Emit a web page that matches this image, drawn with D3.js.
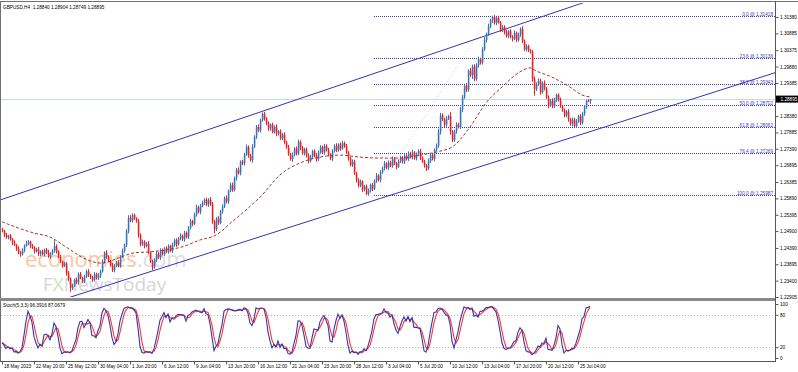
<!DOCTYPE html>
<html>
<head>
<meta charset="utf-8">
<script src="https://cdn.jsdelivr.net/npm/d3@7/dist/d3.min.js"></script>
<style>
  body { margin: 0; background: #fff; }
  svg { display: block; }
  text { font-family: "Liberation Sans", Arial, sans-serif; }
</style>
</head>
<body>
<div id="chart"></div>
<script>
// GBPUSD H4 closes, in pips above 1.0000 (2490 = 1.2490); open = previous close
var closes = [
  2490,2478,2470,2476,2465,2455,2448,2436,2425,2420,2432,2446,2452,2458,2445,2440,2428,2435,2420,2428,
  2420,2434,2425,2412,2422,2430,2445,2428,2412,2398,2385,2392,2362,2345,2318,2325,2342,2335,2360,2348,
  2338,2352,2368,2358,2350,2342,2360,2348,2355,2368,2398,2425,2412,2400,2388,2372,2385,2395,2385,2412,
  2430,2448,2490,2530,2522,2538,2528,2520,2478,2450,2458,2445,2452,2425,2398,2380,2402,2422,2410,2432,
  2420,2438,2428,2445,2430,2448,2462,2450,2468,2475,2465,2485,2472,2500,2520,2512,2540,2562,2548,2566,
  2575,2585,2570,2585,2572,2520,2495,2528,2515,2550,2565,2590,2580,2612,2630,2615,2650,2675,2665,2700,
  2695,2722,2745,2718,2705,2745,2775,2805,2795,2825,2845,2830,2815,2800,2812,2790,2805,2785,2792,2770,
  2782,2760,2745,2722,2708,2720,2740,2725,2760,2742,2725,2738,2718,2702,2715,2732,2718,2708,2728,2745,
  2728,2748,2735,2722,2710,2732,2748,2735,2752,2740,2756,2748,2728,2710,2690,2700,2665,2645,2628,2640,
  2615,2625,2603,2612,2630,2618,2642,2658,2645,2668,2680,2695,2682,2698,2688,2708,2695,2685,2702,2712,
  2700,2718,2708,2725,2715,2728,2710,2722,2732,2712,2700,2688,2680,2702,2720,2708,2735,2748,2790,2840,
  2828,2812,2830,2838,2790,2765,2792,2812,2805,2858,2895,2930,2918,2975,2962,2988,2950,2992,3010,3000,
  3040,3068,3085,3110,3128,3138,3120,3135,3122,3098,3108,3092,3080,3095,3078,3072,3090,3068,3085,3102,
  3065,3040,3050,3036,3032,2950,2920,2935,2945,2910,2938,2922,2895,2870,2885,2868,2888,2902,2888,2868,
  2855,2840,2852,2828,2815,2828,2808,2822,2838,2818,2845,2865,2885,2884,2889.5
];
var firstOpen = 2495;
// wick above the body top / below the body bottom, in pips
var wickUp = [
  5,4,6,3,5,4,7,3,8,5,6,4,9,5,3,6,4,5,7,4,
  6,3,5,8,4,6,17,5,4,6,3,5,4,7,5,6,4,8,5,6,
  4,6,5,7,3,5,6,4,8,5,6,4,7,5,3,6,5,4,6,5,
  7,4,6,8,9,6,5,4,7,5,6,4,5,8,4,6,5,7,4,6,
  5,4,6,5,3,7,5,6,4,8,5,6,4,5,7,4,6,8,5,6,
  7,4,6,5,8,6,4,5,7,4,6,5,8,4,6,7,5,6,8,4,
  6,5,7,4,6,8,5,6,8,5,4,6,5,7,4,6,5,8,4,6,
  5,7,4,6,5,8,4,6,7,5,6,4,5,7,6,4,5,8,6,5,
  4,6,5,7,4,6,5,8,4,6,7,5,6,4,5,7,6,4,5,6,
  4,5,6,7,4,6,5,8,4,6,5,7,4,6,5,8,6,4,5,6,
  5,7,4,6,5,8,4,6,5,7,4,6,5,8,4,6,5,7,10,8,
  6,5,8,4,12,6,5,7,6,8,7,6,8,5,9,6,7,6,8,5,
  7,9,6,8,5,4,6,5,7,4,6,5,8,4,6,5,7,4,6,5,
  8,5,6,4,5,6,8,5,7,6,5,8,4,6,5,7,6,4,5,6,
  4,6,5,7,4,6,5,7,4,6,5,6,3,4,1
];
var wickDn = [
  4,6,3,5,4,7,3,6,5,8,4,6,3,5,7,4,6,3,5,6,
  4,7,5,3,6,4,5,6,4,5,6,4,7,5,12,6,4,5,7,4,
  6,5,4,7,5,6,4,5,6,7,4,5,6,4,5,6,7,4,5,6,
  4,5,6,7,5,6,4,5,8,6,5,7,4,6,5,8,4,6,5,7,
  4,6,5,7,4,6,5,8,4,6,5,7,4,6,5,7,4,6,5,7,
  4,6,5,7,6,8,12,5,6,4,7,5,6,8,4,6,5,7,4,6,
  5,7,4,6,5,8,4,6,5,7,4,6,5,7,6,4,5,8,6,4,
  5,7,6,4,5,8,4,6,5,7,4,6,5,7,4,6,5,8,6,4,
  5,7,4,6,5,8,4,6,5,7,4,6,5,7,4,6,5,8,6,5,
  7,5,4,6,5,7,4,6,5,7,4,6,5,7,4,6,5,8,4,6,
  5,7,4,6,5,8,4,6,5,7,4,6,8,5,6,4,7,5,6,8,
  5,7,6,4,8,6,5,7,4,6,8,5,7,6,5,12,6,5,7,6,
  6,5,7,4,6,8,5,7,4,6,5,7,4,6,5,8,4,6,5,7,
  6,5,7,4,5,8,20,6,5,7,4,6,5,8,4,6,5,7,6,5,
  4,6,5,7,6,8,5,6,4,7,5,6,5,4,9
];

// moving average (bar index, pips)
var maBars   = [0,16,24,32,40,46,50,58,66,74,82,90,99,107,115,122,130,139,149,159,169,179,189,199,209,219,225,234,242,250,259,264,267,275,284,290,294];
var maValues = [2518,2484,2472,2442,2411,2396,2393,2408,2424,2427,2433,2442,2463,2478,2518,2554,2599,2660,2696,2714,2720,2714,2711,2711,2720,2732,2744,2805,2878,2926,2972,2984,2975,2956,2926,2902,2896];

var timeLabels = ["18 May 2023","22 May 20:00","25 May 12:00","30 May 04:00","1 Jun 20:00","6 Jun 12:00",
  "9 Jun 04:00","13 Jun 20:00","16 Jun 12:00","21 Jun 04:00","23 Jun 20:00","28 Jun 12:00","3 Jul 04:00",
  "5 Jul 20:00","10 Jul 12:00","13 Jul 04:00","17 Jul 20:00","20 Jul 12:00","25 Jul 04:00"];
var timeLabelEvery = 16;

var priceTicks = [1.31380,1.30885,1.30375,1.29880,1.29385,1.28380,1.27885,1.27390,1.26895,
  1.26385,1.25890,1.25395,1.24900,1.24390,1.23895,1.23400,1.22905];
var lastPrice = 1.28895;
var titleText = "GBPUSD,H4  1.28840 1.28904 1.28749 1.28895";

var fibLevels = [0, 23.6, 38.2, 50, 61.8, 76.4, 100];
var fibHigh = 1.31418, fibLow = 1.25987;
var fibBars = [186, 244];

// channel lines: [bar, price] anchors
var channelUpper = [[0, 1.2586], [250, 1.3098]];
var channelLower = [[100, 1.2417], [280, 1.2764]];

var stochLevels = [80, 20];
var stochTicks = [100, 80, 20, 0];
var stochText = "Stoch(5,3,3) 96.3916 87.0679";

// ---------------------------------------------------------------
var W = 798, H = 372;
var plotL = 1, plotR = 775;
var mainTop = 3, mainBot = 297;
var stTop = 302, stBot = 361;

var toP = function(v) { return 1 + v / 10000; };
var bars = closes.map(function(c, i) {
  var o = i === 0 ? firstOpen : closes[i - 1];
  return {
    i: i,
    o: toP(o), c: toP(c),
    h: toP(Math.max(o, c) + wickUp[i]),
    l: toP(Math.min(o, c) - wickDn[i])
  };
});

var svg = d3.select("#chart").append("svg")
  .attr("width", W).attr("height", H);

var x = d3.scaleLinear().domain([0, 294]).range([2, 590]);
var y = d3.scaleLinear().domain([1.22905, 1.31380]).range([297, 17]);
var ys = d3.scaleLinear().domain([0, 100]).range([358, 304]);

var defs = svg.append("defs");
defs.append("clipPath").attr("id", "clipMain").append("rect")
  .attr("x", plotL).attr("y", mainTop).attr("width", plotR - plotL).attr("height", mainBot - mainTop);
defs.append("clipPath").attr("id", "clipSt").append("rect")
  .attr("x", plotL).attr("y", stTop).attr("width", plotR - plotL).attr("height", stBot - stTop);

var main = svg.append("g").attr("clip-path", "url(#clipMain)");

// watermark
var wm = main.append("g");
var t1 = wm.append("text").attr("x", 25).attr("y", 267)
  .style("font-family", "'Open Sans', sans-serif").style("font-size", "22px");
t1.append("tspan").attr("fill", "#fbc6a2").text("economies");
t1.append("tspan").attr("fill", "#dedede").text(".com");
var t2 = wm.append("text").attr("x", 43).attr("y", 291)
  .style("font-family", "'Open Sans', sans-serif").style("font-size", "19px").attr("fill", "#d6d6d6");
t2.append("tspan").text("F");
t2.append("tspan").attr("fill", "#c6e4c2").text("X");
t2.append("tspan").text("NewsToday");

// current price line
main.append("line")
  .attr("x1", plotL).attr("x2", plotR)
  .attr("y1", Math.round(y(lastPrice)) + 0.5).attr("y2", Math.round(y(lastPrice)) + 0.5)
  .attr("stroke", "#c4dcdc");

// fibonacci levels
var fibX = x(fibBars[0]);
var fibs = fibLevels.map(function(l) {
  return { l: l, p: fibHigh - (fibHigh - fibLow) * l / 100 };
});
main.append("line")
  .attr("x1", x(fibBars[0])).attr("y1", y(fibLow))
  .attr("x2", x(fibBars[1])).attr("y2", y(fibHigh))
  .attr("stroke", "#cfcfcf").attr("stroke-dasharray", "1,2");
main.selectAll(".fib").data(fibs).enter().append("line")
  .attr("x1", fibX).attr("x2", plotR)
  .attr("y1", function(d) { return Math.round(y(d.p)) + 0.5; })
  .attr("y2", function(d) { return Math.round(y(d.p)) + 0.5; })
  .attr("stroke", "#3c3cae").attr("stroke-dasharray", "1,1");
main.selectAll(".fibtxt").data(fibs).enter().append("text")
  .attr("x", plotR - 2)
  .attr("y", function(d) { return Math.round(y(d.p)) - 0.5; })
  .attr("text-anchor", "end")
  .style("font-size", "4.7px").attr("fill", "#3c3cae")
  .text(function(d) { return d.l.toFixed(1) + " @ " + d.p.toFixed(5); });

// channel
function ray(a) {
  var s = (a[1][1] - a[0][1]) / (a[1][0] - a[0][0]);
  return [[-10, a[0][1] + s * (-10 - a[0][0])], [420, a[0][1] + s * (420 - a[0][0])]];
}
[channelUpper, channelLower].forEach(function(c) {
  var r = ray(c);
  main.append("line")
    .attr("x1", x(r[0][0])).attr("y1", y(r[0][1]))
    .attr("x2", x(r[1][0])).attr("y2", y(r[1][1]))
    .attr("stroke", "#3434b0").attr("stroke-width", 1);
});

// candles
var up = "#3474c0", dn = "#f01e1e";
var cg = main.append("g");
cg.selectAll(".wick").data(bars).enter().append("line")
  .attr("x1", function(d) { return x(d.i) + 0.5; })
  .attr("x2", function(d) { return x(d.i) + 0.5; })
  .attr("y1", function(d) { return y(d.h); })
  .attr("y2", function(d) { return y(d.l); })
  .attr("stroke", function(d) { return d.c >= d.o ? up : dn; });
cg.selectAll(".body").data(bars).enter().append("rect")
  .attr("x", function(d) { return x(d.i) - 0.2; })
  .attr("width", 1.6)
  .attr("y", function(d) { return y(Math.max(d.o, d.c)); })
  .attr("height", function(d) { return Math.max(1, Math.abs(y(d.o) - y(d.c))); })
  .attr("fill", function(d) { return d.c >= d.o ? up : dn; });

// moving average
main.append("path")
  .datum(maBars.map(function(b, i) { return [b, toP(maValues[i])]; }))
  .attr("d", d3.line().curve(d3.curveMonotoneX)
    .x(function(d) { return x(d[0]); }).y(function(d) { return y(d[1]); }))
  .attr("fill", "none").attr("stroke", "#a8332c").attr("stroke-width", 1)
  .attr("stroke-dasharray", "3,2");

// stochastic 5,3,3
var kLine = [], dLine = [];
var num = [], den = [];
bars.forEach(function(b, i) {
  var win = bars.slice(Math.max(0, i - 4), i + 1);
  var lo = d3.min(win, function(d) { return d.l; });
  var hi = d3.max(win, function(d) { return d.h; });
  num.push(b.c - lo); den.push(hi - lo);
  var s0 = Math.max(0, i - 2);
  var k = d3.sum(num.slice(s0, i + 1)) / d3.sum(den.slice(s0, i + 1)) * 100;
  kLine.push(k);
  dLine.push(d3.mean(kLine.slice(Math.max(0, i - 2), i + 1)));
});

var st = svg.append("g").attr("clip-path", "url(#clipSt)");
st.selectAll(".lvl").data(stochLevels).enter().append("line")
  .attr("x1", plotL).attr("x2", plotR)
  .attr("y1", function(d) { return Math.round(ys(d)) + 0.5; })
  .attr("y2", function(d) { return Math.round(ys(d)) + 0.5; })
  .attr("stroke", "#b8b8b8").attr("stroke-dasharray", "1,2");
var sl = d3.line().x(function(d, i) { return x(i); }).y(function(d) { return ys(d); });
st.append("path").datum(dLine).attr("d", sl)
  .attr("fill", "none").attr("stroke", "#ff3434").attr("stroke-width", 1.1);
st.append("path").datum(kLine).attr("d", sl)
  .attr("fill", "none").attr("stroke", "#3636a8").attr("stroke-width", 1.1);

// frames
svg.append("line").attr("x1", 0).attr("x2", W).attr("y1", 1.5).attr("y2", 1.5).attr("stroke", "#707070");
svg.append("line").attr("x1", 0.5).attr("x2", 0.5).attr("y1", 1).attr("y2", stBot).attr("stroke", "#707070");
svg.append("rect").attr("x", 0).attr("y", 298).attr("width", plotR + 1).attr("height", 3).attr("fill", "#8a8a8a");
svg.append("line").attr("x1", 0).attr("x2", plotR + 1).attr("y1", stBot + 0.5).attr("y2", stBot + 0.5).attr("stroke", "#555");
svg.append("line").attr("x1", plotR + 0.5).attr("x2", plotR + 0.5).attr("y1", 1).attr("y2", stBot + 1).attr("stroke", "#555");

// price axis
var pa = svg.append("g").attr("transform", "translate(" + (plotR + 0.5) + ",0)")
  .call(d3.axisRight(y).tickValues(priceTicks).tickSize(3).tickSizeOuter(0)
    .tickFormat(d3.format(".5f")));
pa.select(".domain").remove();
pa.selectAll("text").style("font-size", "4.7px").attr("x", 4.5).attr("fill", "#000")
  .style("font-family", "'Liberation Sans', Arial, sans-serif");
pa.selectAll("line").attr("stroke", "#555");

var lp = svg.append("g").attr("transform", "translate(" + (plotR + 1) + "," + y(lastPrice) + ")");
lp.append("rect").attr("x", 0).attr("y", -3.5).attr("width", W - plotR - 1).attr("height", 7).attr("fill", "#000");
lp.append("text").attr("x", 4.5).attr("y", 1.7).attr("fill", "#fff")
  .style("font-size", "4.7px").text(lastPrice.toFixed(5));

// stochastic axis
var sa = svg.append("g").attr("transform", "translate(" + (plotR + 0.5) + ",0)")
  .call(d3.axisRight(ys).tickValues(stochTicks).tickSize(3).tickSizeOuter(0));
sa.select(".domain").remove();
sa.selectAll("text").style("font-size", "4.7px").attr("x", 4.5).attr("fill", "#000")
  .style("font-family", "'Liberation Sans', Arial, sans-serif");
sa.selectAll("line").attr("stroke", "#555");

// time axis
var tb = timeLabels.map(function(d, i) { return i * timeLabelEvery; });
var ta = svg.append("g").attr("transform", "translate(0," + (stBot + 0.5) + ")")
  .call(d3.axisBottom(x).tickValues(tb).tickSize(3).tickSizeOuter(0)
    .tickFormat(function(d, i) { return timeLabels[i]; }));
ta.select(".domain").remove();
ta.selectAll("line").attr("stroke", "#555");
ta.selectAll("text").attr("text-anchor", "start").attr("x", 1.5).attr("y", 3).attr("dy", "0.71em")
  .style("font-size", "4.7px").attr("fill", "#000")
  .style("font-family", "'Liberation Sans', Arial, sans-serif");

// labels
svg.append("text").attr("x", 3).attr("y", 8.5).style("font-size", "4.7px").attr("fill", "#000")
  .attr("xml:space", "preserve").style("white-space", "pre").text(titleText);
svg.append("text").attr("x", 3).attr("y", 307).style("font-size", "4.7px").attr("fill", "#000")
  .text(stochText);
</script>
</body>
</html>
